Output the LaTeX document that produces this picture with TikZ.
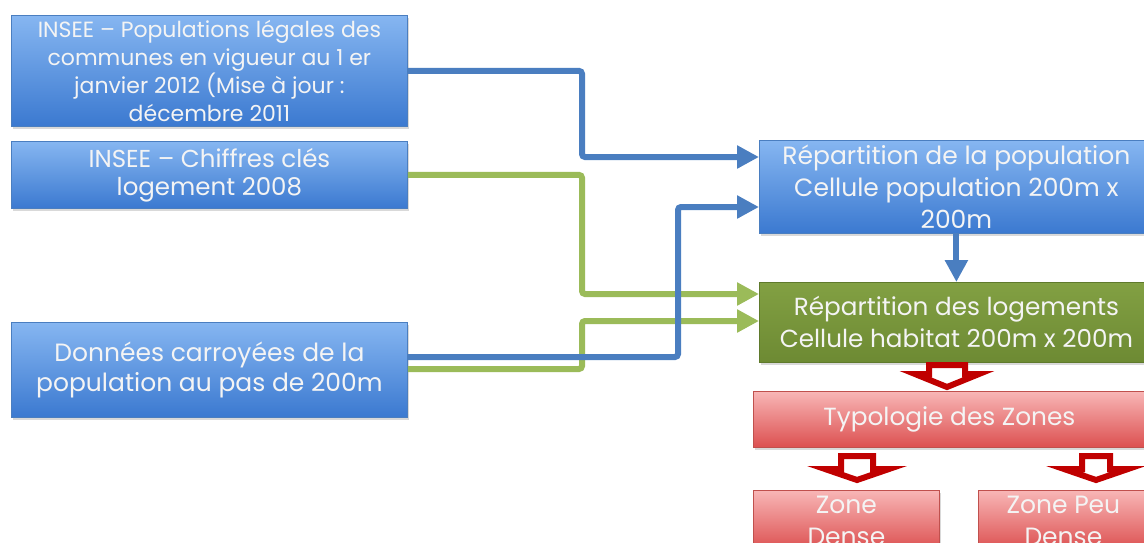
\documentclass[tikz,border=0pt]{standalone}
\usepackage{fontspec}
\setmainfont{Poppins}
\usetikzlibrary{arrows.meta,shadows}
\definecolor{bluetop}{HTML}{86B6F1}
\definecolor{bluebot}{HTML}{3B79D0}
\definecolor{blueedge}{HTML}{4A7EC0}
\definecolor{blueline}{HTML}{4A7EC0}
\definecolor{greenline}{HTML}{9BBB59}
\definecolor{greentop}{HTML}{82A043}
\definecolor{greenbot}{HTML}{6D8A33}
\definecolor{greenedge}{HTML}{5F7A2C}
\definecolor{redtop}{HTML}{F8B6B6}
\definecolor{redbot}{HTML}{DC5050}
\definecolor{rededge}{HTML}{C0504D}
\definecolor{redarrowc}{HTML}{C00000}
\definecolor{txt}{HTML}{F4F4F4}
\newcommand\hollowdown[6]{% cx, ytop, yhead, ytip, stemhalf, headhalf
  \draw[redarr] (#1-#5+3,#2+3) -- (#1+#5-3,#2+3) -- (#1+#5-3,#3+3) -- (#1+#6-13,#3+3)
    -- (#1,#4-4) -- (#1-#6+13,#3+3) -- (#1-#5+3,#3+3) -- cycle;}
\begin{document}
\begin{tikzpicture}[x=1pt,y=-1pt,
  basebox/.style={line width=0.8pt, text=txt, align=center, inner sep=0pt, anchor=north west,
    drop shadow={opacity=0.3, shadow xshift=2pt, shadow yshift=-3pt}},
  bluebox/.style={basebox, draw=blueedge, top color=bluetop, bottom color=bluebot},
  greenbox/.style={basebox, draw=greenedge, top color=greentop, bottom color=greenbot},
  redbox/.style={basebox, draw=rededge, top color=redtop, bottom color=redbot},
  fnt/.style 2 args={font=\fontsize{#1}{#2}\selectfont},
  conn/.style={line width=6pt, rounded corners=3pt, -{Triangle[length=22pt,width=22pt]}},
  bl/.style={conn, draw=blueline},
  gr/.style={conn, draw=greenline},
  redarr/.style={draw=redarrowc, line width=6pt, fill=white, line join=miter},
]
\useasboundingbox (0,0) rectangle (1144,542);
\clip (0,0) rectangle (1144,542);

\node[bluebox, fnt={22}{28}, minimum width=396pt, minimum height=111pt] (A) at (11,15)
  {INSEE – Populations légales des\\communes en vigueur au 1 er\\janvier 2012 (Mise à jour :\\décembre 2011};
\node[bluebox, fnt={24.5}{28}, minimum width=396pt, minimum height=67pt] (B) at (11,141)
  {INSEE – Chiffres clés\\logement 2008};
\node[bluebox, fnt={25}{30}, minimum width=396pt, minimum height=95pt] (C) at (11,322)
  {Données carroyées de la\\population au pas de 200m};

\node[bluebox, fnt={25}{32}, minimum width=394pt, minimum height=93pt] (P) at (759,140)
  {Répartition de la population\\Cellule population 200m x\\200m};
\node[greenbox, fnt={24.7}{32}, minimum width=394pt, minimum height=80pt] (L) at (759,282)
  {Répartition des logements\\Cellule habitat 200m x 200m};
\node[redbox, fnt={24.8}{32}, minimum width=392pt, minimum height=56pt] (T) at (753,391)
  {Typologie des Zones};
\node[redbox, fnt={25}{32}, minimum width=186pt, minimum height=60pt] (ZD) at (753,490)
  {Zone\\Dense};
\node[redbox, fnt={25}{32}, minimum width=170pt, minimum height=60pt] (ZP) at (978,490)
  {Zone Peu\\Dense};

\draw[gr] (B.east) -| (582,294) -- (L.west |- 0,294);
\draw[gr] (C.east |- 0,369) -| (582,321) -- (L.west |- 0,321);
\draw[bl] (A.east) -| (582,157) -- (P.west |- 0,157);
\draw[bl] (C.east |- 0,357) -| (678,207) -- (P.west |- 0,207);
\draw[bl] (P.south) -- (L.north);

\hollowdown{947}{362}{371}{391}{21}{45}
\hollowdown{857}{453}{466}{484}{19}{45}
\hollowdown{1096}{453}{466}{484}{17}{45}
\end{tikzpicture}
\end{document}
